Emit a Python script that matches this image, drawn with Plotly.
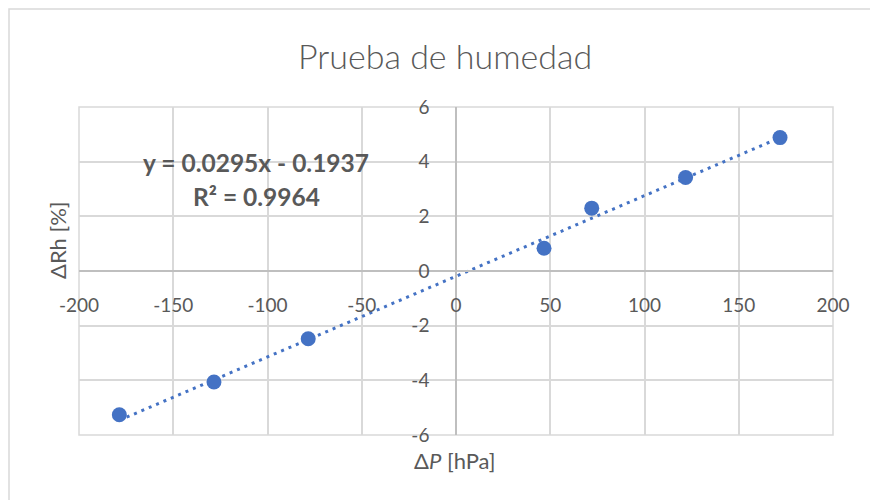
import plotly.graph_objects as go

# Pressure change vs. humidity change measurements
delta_p = [-178.6, -128.4, -78.4, 46.7, 72.0, 121.8, 171.9]
delta_rh = [-5.26, -4.06, -2.48, 0.83, 2.30, 3.42, 4.88]

# Linear fit reported on the chart
slope = 0.0295
intercept = -0.1937
r_squared = 0.9964

x_ticks = [-200, -150, -100, -50, 0, 50, 100, 150, 200]
x_tick_text = ["-200", "-150", "-100", "-50", "0", "50", "100", "150", "200"]
y_ticks = [-6, -4, -2, 0, 2, 4, 6]
y_tick_text = ["-6", "-4", "-2", "0", "2", "4", "6"]

TEXT = "#595959"
GRID = "#d9d9d9"
AXIS = "#bfbfbf"
BLUE = "#4472C4"
FONT = "Lato, 'Open Sans', sans-serif"

W, H = 870, 500
L, R, T, B = 79, 37, 107, 65
PW, PH = W - L - R, H - T - B


def px(x):
    return (x - L) / PW


def py(y):
    return (H - B - y) / PH


fit_x = [min(delta_p), max(delta_p)]
fit_y = [slope * v + intercept for v in fit_x]

fig = go.Figure()
fig.add_trace(go.Scatter(
    x=fit_x, y=fit_y, mode="lines",
    line=dict(color=BLUE, width=3, dash="3px,5px"),
    hoverinfo="skip", showlegend=False,
))
fig.add_trace(go.Scatter(
    x=delta_p, y=delta_rh, mode="markers",
    marker=dict(color=BLUE, size=15),
    showlegend=False,
))

tick_font = dict(size=19, color=TEXT, family=FONT)
fig.update_layout(
    width=W, height=H,
    margin=dict(l=L, r=R, t=T, b=B),
    paper_bgcolor="white", plot_bgcolor="white",
    font=dict(family=FONT, color=TEXT),
    xaxis=dict(
        range=[-200, 200], tickvals=x_ticks, ticktext=x_tick_text,
        showgrid=True, gridcolor=GRID, gridwidth=1.5,
        zeroline=False, showline=True, linecolor=AXIS, linewidth=1.5,
        anchor="free", position=0.5, ticks="", ticklabelstandoff=17,
        tickfont=tick_font,
    ),
    yaxis=dict(
        range=[-6, 6], tickvals=y_ticks, ticktext=y_tick_text,
        showgrid=True, gridcolor=GRID, gridwidth=1.5,
        zeroline=False, showline=True, linecolor=AXIS, linewidth=1.5,
        anchor="free", position=0.5, ticks="", ticklabelstandoff=22,
        tickfont=tick_font,
    ),
)

# plot-area frame and outer chart border
fig.add_shape(type="rect", xref="paper", yref="paper", x0=0, x1=1, y0=0, y1=1,
              line=dict(color=GRID, width=1.5), layer="below")
fig.add_shape(type="rect", xref="paper", yref="paper",
              x0=px(9), x1=px(875), y0=py(505), y1=py(9),
              line=dict(color=GRID, width=1.5))


def label(text, x, y, size, bold=False, angle=0, weight=None):
    font = dict(size=size, color=TEXT, family=FONT)
    if weight:
        font["weight"] = weight
    fig.add_annotation(
        text=f"<b>{text}</b>" if bold else text,
        xref="paper", yref="paper", x=px(x), y=py(y),
        xanchor="center", yanchor="middle", showarrow=False, textangle=angle,
        font=font,
    )


label("Prueba de humedad", 445, 55, 34, weight=300)
label(f"y = {slope}x - {abs(intercept)}", 256, 162, 24.5, bold=True)
label(f"R² = {r_squared}", 256, 196, 24.5, bold=True)
label("ΔRh [%]", 57, 240, 22, angle=-90)
label("Δ<i>P</i> [hPa]", 455, 460, 22)

fig.write_html("out.html")
